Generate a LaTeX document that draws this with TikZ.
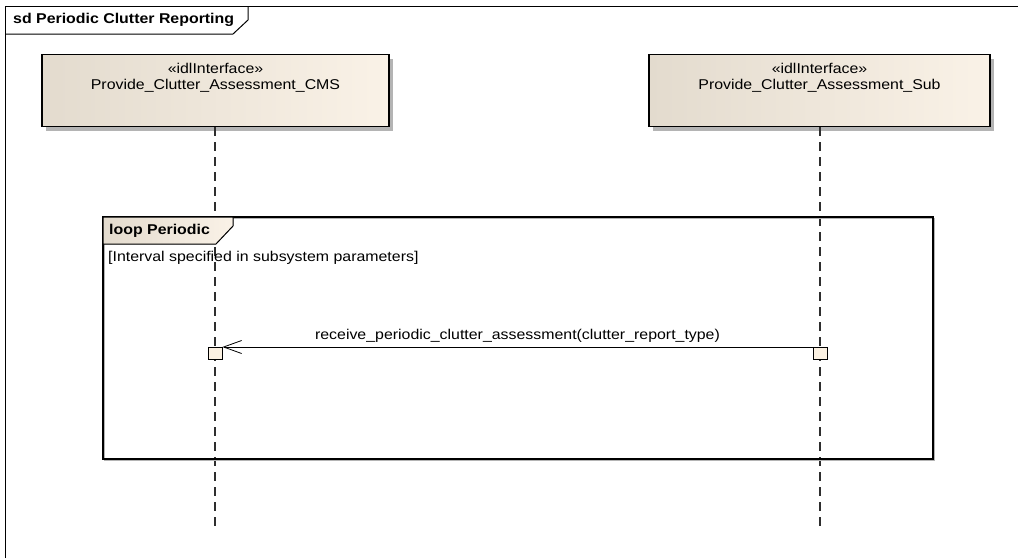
\documentclass[tikz,border=0pt]{standalone}
\usepackage{fontspec}
\setmainfont{Liberation Sans}[FakeStretch=1.12]
\usetikzlibrary{arrows.meta,positioning,calc,shadows}
\definecolor{boxdark}{HTML}{E3DBCE}
\definecolor{boxlight}{HTML}{FAF2E7}
\definecolor{actfill}{HTML}{FBF1E2}
\definecolor{shade}{HTML}{B4B4B4}
\definecolor{ink}{HTML}{000000}
\definecolor{dashink}{HTML}{2E2E2E}

\begin{document}
\begin{tikzpicture}[
    x=1pt,y=-1pt,
    font=\fontsize{14.2}{16}\selectfont,
    % --- lifeline heads ----------------------------------------------
    lifebox/.style={rectangle,draw=ink,line width=1.1pt,minimum height=72pt,
                    left color=boxdark,right color=boxlight,inner sep=0pt,
                    drop shadow={shadow xshift=4pt,shadow yshift=-4pt,
                                 fill=shade,opacity=1}},
    % --- lifelines and activations -----------------------------------
    lifeline/.style={draw=dashink,line width=1.3pt,dash pattern=on 9pt off 6pt},
    actbox/.style={rectangle,draw=ink,fill=actfill,line width=0.9pt,
                   minimum width=14pt,minimum height=12pt,inner sep=0pt},
    % --- messages ----------------------------------------------------
    msg/.style={draw=ink,line width=0.9pt,
                -{Straight Barb[length=18pt,width=13pt,line width=0.8pt]}},
    % --- frames ------------------------------------------------------
    frameline/.style={draw=ink,line width=1pt},
    tabtext/.style={font=\fontsize{14.2}{16}\selectfont\bfseries,anchor=west,inner sep=0pt},
    plain/.style={inner sep=0pt},
  ]
\useasboundingbox (0,0) rectangle (1018,558);

% =====================================================================
%  Outer sequence-diagram frame
% =====================================================================
\draw[frameline] (5,558) -- (5,6) -- (1018,6);
\draw[frameline] (5,34) -- (233,34) -- (248,20) -- (248,6);
\node[tabtext] (title) at (13,20) {sd Periodic Clutter Reporting};

% =====================================================================
%  Lifeline heads
% =====================================================================
\node[lifebox,minimum width=347pt] (cms) at (215.5,90.5) {};
\node[plain] at ([yshift=-14pt]cms.north) {«idlInterface»};
\node[plain] at ([yshift=-32pt]cms.north) {Provide\_Clutter\_Assessment\_CMS};

\node[lifebox,minimum width=341pt] (sub) at (819.5,90.5) {};
\node[plain] at ([yshift=-14pt]sub.north) {«idlInterface»};
\node[plain] at ([yshift=-32pt]sub.north) {Provide\_Clutter\_Assessment\_Sub};

% ---- dashed lifelines -----------------------------------------------
\coordinate (cmsEnd) at (215,527);
\coordinate (subEnd) at (820,527);
\draw[lifeline] (cms.south -| cmsEnd) -- (cmsEnd);
\draw[lifeline] (sub.south -| subEnd) -- (subEnd);

% =====================================================================
%  loop fragment
% =====================================================================
\draw[draw=shade,line width=1pt] (104.5,218.5) rectangle (934.5,460.5);
\draw[frameline,line width=1.2pt] (103,217) rectangle (933,459);
\filldraw[frameline,left color=boxdark,right color=boxlight]
  (103,217) -- (233,217) -- (233,226) -- (216,244) -- (103,244) -- cycle;
\node[tabtext] (looptab) at (109,231) {loop Periodic};
\node[plain,anchor=west] (guard) at (108,258) {[Interval specified in subsystem parameters]};

% =====================================================================
%  Message with activations
% =====================================================================
\node[actbox,anchor=north] (actCms) at (215,347) {};
\node[actbox,anchor=north] (actSub) at (820,347) {};
\draw[msg] (actSub.north west) -- (actCms.north east)
  node[midway,above=4pt,plain] (msgtext) {receive\_periodic\_clutter\_assessment(clutter\_report\_type)};

\end{tikzpicture}
\end{document}
